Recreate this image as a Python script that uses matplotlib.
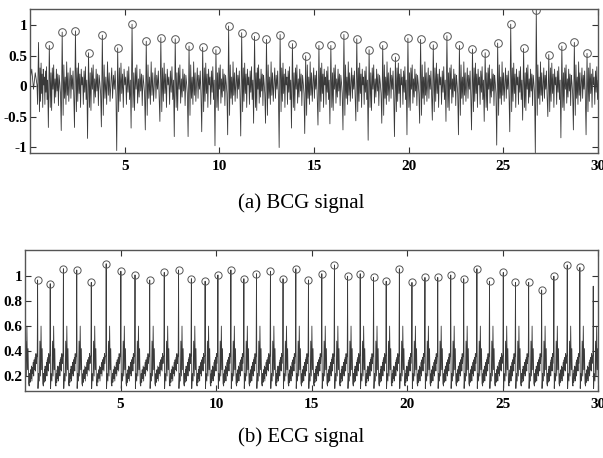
import numpy as np
import matplotlib
matplotlib.use('Agg')
import matplotlib.pyplot as plt

# BCG: J-peak times (s), J-peak amplitudes, I-trough depth before each peak
bcg_t = [1.02, 1.70, 2.40, 3.09, 3.82, 4.63, 5.39, 6.14, 6.91, 7.67, 8.40, 9.12, 9.82,
         10.49, 11.18, 11.86, 12.49, 13.21, 13.86, 14.56, 15.26, 15.89, 16.58, 17.26,
         17.91, 18.63, 19.30, 19.96, 20.63, 21.30, 22.02, 22.68, 23.37, 24.04, 24.70,
         25.39, 26.07, 26.74, 27.40, 28.09, 28.75, 29.42]
bcg_peak = [0.67, 0.89, 0.91, 0.55, 0.84, 0.63, 1.02, 0.74, 0.80, 0.78, 0.66, 0.64, 0.60,
            0.99, 0.88, 0.82, 0.77, 0.85, 0.70, 0.50, 0.67, 0.67, 0.85, 0.78,
            0.60, 0.67, 0.48, 0.79, 0.77, 0.68, 0.83, 0.67, 0.61, 0.55, 0.71,
            1.02, 0.62, 1.25, 0.52, 0.66, 0.72, 0.54]
bcg_trough = [-0.68, -0.73, -0.68, -0.86, -0.67, -1.06, -0.69, -0.72, -0.58, -0.83, -0.83, -0.75, -0.98,
              -0.80, -0.82, -0.61, -0.61, -1.01, -0.69, -0.78, -0.64, -0.62, -0.72, -0.57,
              -0.89, -0.61, -0.83, -0.80, -0.61, -0.56, -0.58, -0.80, -0.72, -0.58, -0.97,
              -0.75, -0.56, -1.12, -0.50, -0.85, -0.72, -0.80]
# uncircled beats at the edges
bcg_edge_t = [0.45, 30.10]
bcg_edge_peak = [0.72, 0.60]
bcg_edge_trough = [-0.30, -0.70]

# ripple between BCG beats (three shapes)
bcg_fill = [
    [-0.42, 0.30, -0.25, 0.38, -0.12, 0.20, -0.35, 0.28, 0.02, 0.15, -0.30, 0.25, -0.10, 0.32, -0.22, 0.10],
    [-0.35, 0.22, -0.40, 0.30, -0.05, 0.35, -0.28, 0.12, -0.18, 0.28, -0.08, 0.20, -0.32, 0.18, 0.05, -0.12],
    [-0.48, 0.35, -0.20, 0.15, -0.30, 0.40, -0.15, 0.22, -0.25, 0.05, 0.30, -0.20, 0.18, -0.05, 0.25, -0.15],
]
bcg_start = [0.10, 0.28, -0.05, 0.22, 0.02]

# ECG: R-peak times and amplitudes
ecg_t = [0.66, 1.32, 2.01, 2.71, 3.47, 4.25, 5.02, 5.76, 6.53, 7.29, 8.04, 8.71, 9.43,
         10.10, 10.78, 11.46, 12.12, 12.85, 13.51, 14.18, 14.84, 15.54, 16.20, 16.89,
         17.55, 18.25, 18.91, 19.60, 20.26, 20.94, 21.61, 22.29, 22.97, 23.66, 24.32,
         25.04, 25.68, 26.37, 27.05, 27.69, 28.39, 29.05]
ecg_peak = [0.97, 0.94, 1.06, 1.05, 0.95, 1.10, 1.04, 1.01, 0.97, 1.03, 1.05, 0.98, 0.96,
            1.01, 1.05, 0.98, 1.02, 1.04, 0.98, 1.06, 0.97, 1.02, 1.09, 1.00,
            1.02, 0.99, 0.96, 1.06, 0.95, 0.99, 0.99, 1.01, 0.98, 1.06, 0.96,
            1.03, 0.95, 0.95, 0.89, 1.00, 1.09, 1.07]
ecg_edge_t = [-0.08, 29.75]
ecg_edge_peak = [0.95, 0.92]

# ECG shape after the R spike (time offset, value) and the rising baseline
ecg_after_dt = [0.02, 0.05, 0.09, 0.12, 0.15, 0.18, 0.21, 0.24, 0.27]
ecg_after_v = [0.10, 0.22, 0.16, 0.48, 0.20, 0.60, 0.25, 0.42, 0.14]
ecg_base = [0.12, 0.22, 0.15, 0.25, 0.18, 0.28, 0.16, 0.27, 0.22, 0.31, 0.20, 0.33,
            0.25, 0.35, 0.24, 0.38, 0.30, 0.36]


def build_bcg():
    ts = sorted(zip(bcg_t + bcg_edge_t, bcg_peak + bcg_edge_peak, bcg_trough + bcg_edge_trough))
    x = list(np.linspace(0, ts[0][0] - 0.08, len(bcg_start)))
    y = list(bcg_start)
    for i, (t, p, tr) in enumerate(ts):
        x += [t - 0.05, t]
        y += [tr, p]
        if i + 1 < len(ts):
            fill = bcg_fill[i % 3]
            xs = np.linspace(t + 0.05, ts[i + 1][0] - 0.09, len(fill))
            x += list(xs)
            y += fill
    return np.array(x), np.array(y)


def build_ecg():
    ts = sorted(zip(ecg_t + ecg_edge_t, ecg_peak + ecg_edge_peak))
    x, y = [], []
    for i, (t, p) in enumerate(ts):
        x += [t - 0.02, t]
        y += [0.36, p]
        x += [t + d for d in ecg_after_dt]
        y += ecg_after_v
        if i + 1 < len(ts):
            xs = np.linspace(t + 0.30, ts[i + 1][0] - 0.04, len(ecg_base))
            x += list(xs)
            y += ecg_base
    return np.array(x), np.array(y)


W, H = 603, 458
fig = plt.figure(figsize=(W / 100, H / 100), dpi=100)

tick_font = dict(family='Liberation Serif', weight='bold', size=11)


def style(ax):
    ax.tick_params(direction='in', top=True, right=True, length=4, width=0.8,
                   colors='#333333', pad=2)
    ax.tick_params(axis='x', pad=5)
    for lab in ax.get_xticklabels() + ax.get_yticklabels():
        lab.set_fontproperties(tick_font)
        lab.set_color('black')
    for s in ax.spines.values():
        s.set_color('#555555')
        s.set_linewidth(1.0)


# (a) BCG
ax1 = fig.add_axes([30 / W, 1 - 153 / H, 568 / W, 144 / H])
bx, by = build_bcg()
ax1.plot(bx, by, color='#3a3a3a', lw=0.6)
ax1.plot(bcg_t, bcg_peak, 'o', mfc='none', mec='#555555', ms=5.5, mew=0.7)
ax1.set_xlim(0, 30)
ax1.set_ylim(-1.1, 1.27)
ax1.set_xticks([5, 10, 15, 20, 25, 30])
ax1.set_yticks([-1, -0.5, 0, 0.5, 1])
ax1.set_yticklabels(['-1', '-0.5', '0', '0.5', '1'])
style(ax1)

# (b) ECG
ax2 = fig.add_axes([25 / W, 1 - 391 / H, 573 / W, 141 / H])
ex, ey = build_ecg()
ax2.plot(ex, ey, color='#3a3a3a', lw=0.6)
ax2.plot(ecg_t, ecg_peak, 'o', mfc='none', mec='#555555', ms=5.2, mew=0.7)
ax2.set_xlim(0, 29.9)
ax2.set_ylim(0.08, 1.21)
ax2.set_xticks([5, 10, 15, 20, 25, 30])
ax2.set_yticks([0.2, 0.4, 0.6, 0.8, 1])
ax2.set_yticklabels(['0.2', '0.4', '0.6', '0.8', '1'])
style(ax2)

fig.text(301 / W, 1 - 203 / H, '(a) BCG signal', ha='center', va='center',
         family='Liberation Serif', fontsize=15)
fig.text(301 / W, 1 - 437 / H, '(b) ECG signal', ha='center', va='center',
         family='Liberation Serif', fontsize=15)

fig.savefig('out.png', dpi=100)
